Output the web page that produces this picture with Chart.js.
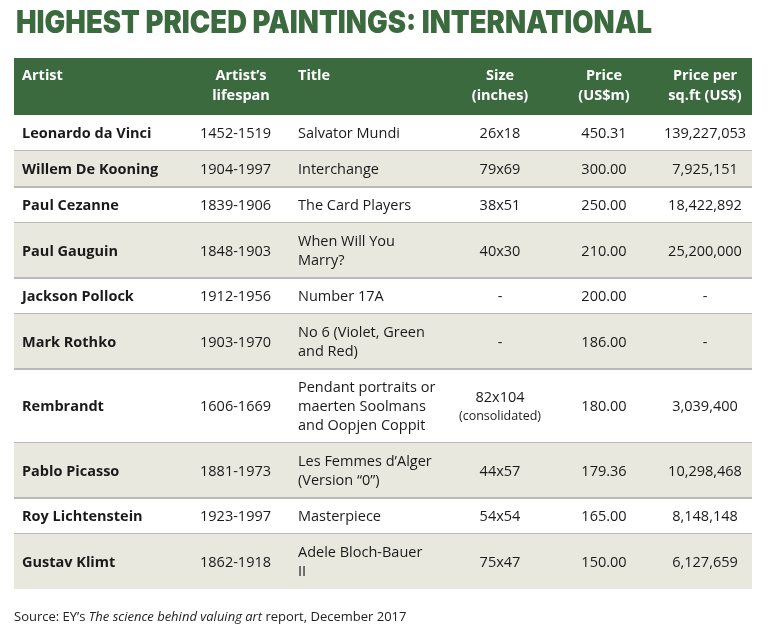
<!DOCTYPE html>
<html>
<head>
<meta charset="utf-8">
<script src="https://cdn.jsdelivr.net/npm/chart.js@4"></script>
<style>body{margin:0;background:#fff}</style>
</head>
<body>
<canvas id="myChart" width="768" height="635"></canvas>
<script>
const headers = ['Artist', 'Artist\u2019s\nlifespan', 'Title', 'Size\n(inches)', 'Price\n(US$m)', 'Price per\nsq.ft (US$)'];
const artists = ['Leonardo da Vinci', 'Willem De Kooning', 'Paul Cezanne', 'Paul Gauguin', 'Jackson Pollock', 'Mark Rothko', 'Rembrandt', 'Pablo Picasso', 'Roy Lichtenstein', 'Gustav Klimt'];
const lifespans = ['1452-1519', '1904-1997', '1839-1906', '1848-1903', '1912-1956', '1903-1970', '1606-1669', '1881-1973', '1923-1997', '1862-1918'];
const titles = ['Salvator Mundi', 'Interchange', 'The Card Players', 'When Will You\nMarry?', 'Number 17A', 'No 6 (Violet, Green\nand Red)', 'Pendant portraits or\nmaerten Soolmans\nand Oopjen Coppit', 'Les Femmes d\u2019Alger\n(Version \u201c0\u201d)', 'Masterpiece', 'Adele Bloch-Bauer\nII'];
const sizes = ['26x18', '79x69', '38x51', '40x30', '-', '-', '82x104', '44x57', '54x54', '75x47'];
const prices = [450.31, 300.00, 250.00, 210.00, 200.00, 186.00, 180.00, 179.36, 165.00, 150.00];
const perSqft = ['139,227,053', '7,925,151', '18,422,892', '25,200,000', '-', '-', '3,039,400', '10,298,468', '8,148,148', '6,127,659'];

document.addEventListener('DOMContentLoaded', function () {
	const green = '#3b6a3f';
	const body = '14.5px "Open Sans", Lato, sans-serif';
	const bold = 'bold 14.5px "Open Sans", Lato, sans-serif';

	const tablePlugin = {
		id: 'table',
		afterDraw(chart) {
			const ctx = chart.ctx;
			const x = chart.scales.x, y = chart.scales.y;
			const px = v => x.getPixelForValue(v), py = v => y.getPixelForValue(v);
			ctx.save();
			// title
			ctx.fillStyle = green;
			ctx.font = '900 31px Inter, "DejaVu Sans", sans-serif';
			ctx.textBaseline = 'middle';
			const t = 'HIGHEST PRICED PAINTINGS: INTERNATIONAL';
			const w = ctx.measureText(t).width;
			ctx.save();
			ctx.translate(px(16), py(24));
			ctx.scale((px(652) - px(16)) / w, 1);
			ctx.fillText(t, 0, 0);
			ctx.restore();

			// header band
			ctx.fillStyle = green;
			ctx.fillRect(px(14), py(58), px(752) - px(14), py(115) - py(58));
			const cols = [
				{ x: 22, align: 'left' }, { x: 241, align: 'center' }, { x: 298, align: 'left' },
				{ x: 500, align: 'center' }, { x: 604, align: 'center' }, { x: 705, align: 'center' }
			];
			ctx.fillStyle = '#fff';
			ctx.font = bold;
			headers.forEach((h, i) => {
				ctx.textAlign = cols[i].align;
				h.split('\n').forEach((ln, j) => ctx.fillText(ln, px(cols[i].x), py(76 + j * 20)));
			});

			// rows
			let top = 115;
			artists.forEach((a, r) => {
				const lines = titles[r].split('\n').length;
				const hgt = lines === 1 ? 36 : (lines === 2 ? 55 : 74);
				const bot = top + hgt;
				if (r % 2 === 1) {
					ctx.fillStyle = '#e9e8df';
					ctx.fillRect(px(14), py(top), px(752) - px(14), py(bot) - py(top));
				}
				const mid = (top + bot) / 2 + 1;
				ctx.fillStyle = '#1a1a1a';
				ctx.font = bold;
				ctx.textAlign = 'left';
				ctx.fillText(a, px(22), py(mid));
				ctx.font = body;
				ctx.textAlign = 'right';
				ctx.fillText(lifespans[r], px(271), py(mid));
				ctx.textAlign = 'left';
				const tl = titles[r].split('\n');
				tl.forEach((ln, j) => ctx.fillText(ln, px(298), py(mid + (j - (tl.length - 1) / 2) * 19)));
				ctx.textAlign = 'center';
				if (sizes[r] === '82x104') {
					ctx.fillText(sizes[r], px(500), py(mid - 9));
					ctx.font = '12.5px "Open Sans", Lato, sans-serif';
					ctx.fillText('(consolidated)', px(500), py(mid + 9));
					ctx.font = body;
				} else {
					ctx.fillText(sizes[r], px(500), py(mid));
				}
				ctx.fillText(prices[r].toFixed(2), px(604), py(mid));
				ctx.fillText(perSqft[r], px(705), py(mid));
				if (r < artists.length - 1) {
					ctx.fillStyle = '#b9b9b9';
					ctx.fillRect(px(14), py(bot) - 1, px(752) - px(14), 2);
				}
				top = bot;
			});

			// source
			ctx.fillStyle = '#222';
			ctx.textAlign = 'left';
			ctx.font = '13px "Open Sans", Lato, sans-serif';
			let sx = px(14);
			const parts = [['EY\u2019s ', ''], ['The science behind valuing art', 'italic '], [' report, December 2017', '']];
			ctx.fillText('Source: ', sx, py(617)); sx += ctx.measureText('Source: ').width;
			parts.forEach(p => {
				ctx.font = p[1] + '13px "Open Sans", Lato, sans-serif';
				ctx.fillText(p[0], sx, py(617));
				sx += ctx.measureText(p[0]).width;
			});
			ctx.restore();
		}
	};

	new Chart(document.getElementById('myChart').getContext('2d'), {
		type: 'bar',
		data: { labels: [], datasets: [{ data: [] }] },
		options: {
			responsive: false,
			animation: false,
			layout: { padding: 0 },
			plugins: { legend: { display: false }, tooltip: { enabled: false } },
			scales: {
				x: { type: 'linear', min: 0, max: 768, display: false, offset: false },
				y: { type: 'linear', min: 0, max: 635, reverse: true, display: false, offset: false }
			}
		},
		plugins: [tablePlugin]
	});
});
</script>
</body>
</html>
